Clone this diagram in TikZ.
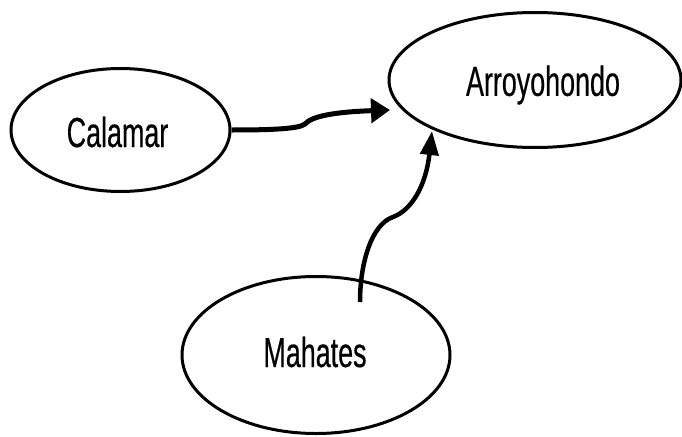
\documentclass[tikz,border=0pt]{standalone}
\usepackage{fontspec}
\newfontfamily\narrowsans[FakeStretch=0.64,FakeBold=0.4]{Liberation Sans}
\usetikzlibrary{shapes.geometric,arrows.meta}
\begin{document}
\begin{tikzpicture}[x=1pt,y=-1pt,
  place/.style={ellipse,draw=black,line width=3pt,inner sep=0pt},
  label/.style={font=\narrowsans\fontsize{42}{50}\selectfont,inner sep=0pt},
  link/.style={line width=5pt,line join=round,line cap=butt}]
\useasboundingbox (0,0) rectangle (682,436);
\node[place,minimum width=219pt,minimum height=123pt] (cal) at (120.5,130) {};
\node[label] at (117.5,132) {Calamar};
\node[place,minimum width=292pt,minimum height=135pt] (arr) at (535,80) {};
\node[label] at (543,85) {Arroyohondo};
\node[place,minimum width=268pt,minimum height=157pt] (mah) at (316,355) {};
\node[label] at (315,352) {Mahates};
\coordinate (t1) at (390,110);
\coordinate (s2) at (360,302);
\coordinate (t2) at (432,131);
\draw[link,-{Triangle[length=19pt,width=24pt]}]
  (cal.east) .. controls (270,130) and (299,129) .. (305,124)
  .. controls (312,116) and (335,112) .. (t1);
\draw[link,line width=4.5pt,-{Triangle[length=24pt,width=18pt]}]
  (s2) .. controls (360,262) and (372,224) .. (393,217)
  .. controls (412,210) and (426,185) .. (t2);
\end{tikzpicture}
\end{document}
